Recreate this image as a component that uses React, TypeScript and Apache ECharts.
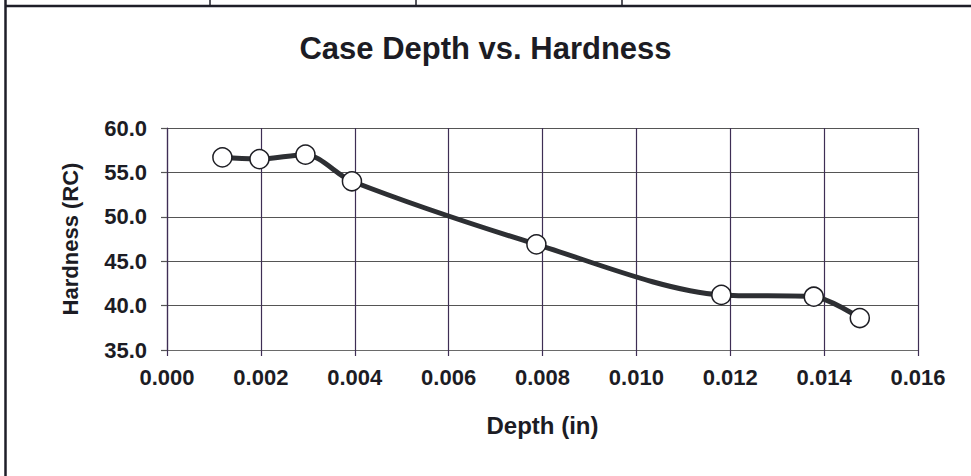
import React, { useEffect, useRef } from "react";
import * as echarts from "echarts";

const depthIn: number[] = [0.00118, 0.00197, 0.00295, 0.00394, 0.00787, 0.01181, 0.01378, 0.01476];
const hardnessRC: number[] = [56.7, 56.5, 57.0, 54.0, 46.9, 41.2, 41.0, 38.6];
const xTicks = { min: 0, max: 0.016, interval: 0.002 };
const yTicks = { min: 35, max: 60, interval: 5 };
const titleText = "Case Depth vs. Hardness";
const xName = "Depth (in)";
const yName = "Hardness (RC)";

const FONT = "'Liberation Sans', Arial, sans-serif";
const TXT = "#1c1c24";

export default function App() {
  const ref = useRef<HTMLDivElement>(null);
  useEffect(() => {
    if (!ref.current) return;
    const chart = echarts.init(ref.current, undefined, { renderer: "svg" });
    const data = depthIn.map((x, i) => [x, hardnessRC[i]]);
    chart.setOption({
      animation: false,
      backgroundColor: "#ffffff",
      title: {
        text: titleText,
        left: "center",
        top: 28,
        textStyle: { fontFamily: FONT, fontWeight: "bold", fontSize: 31, color: TXT },
      },
      grid: { left: 167, right: 53, top: 128, height: 222 },
      xAxis: {
        type: "value",
        min: xTicks.min,
        max: xTicks.max,
        interval: xTicks.interval,
        name: xName,
        nameLocation: "middle",
        nameGap: 63,
        nameTextStyle: { fontFamily: FONT, fontWeight: "bold", fontSize: 24, color: TXT },
        axisLine: { show: true, lineStyle: { color: "#6a6a6a", width: 1.2 } },
        axisTick: { show: true, inside: false, length: 6, lineStyle: { color: "#3e2e55", width: 1.2 } },
        axisLabel: {
          margin: 16,
          fontFamily: FONT,
          fontWeight: "bold",
          fontSize: 22,
          color: TXT,
          formatter: (v: number) => v.toFixed(3),
        },
        splitLine: { show: true, lineStyle: { color: "#3e2e55", width: 1.2 } },
      },
      yAxis: {
        type: "value",
        min: yTicks.min,
        max: yTicks.max,
        interval: yTicks.interval,
        name: yName,
        nameLocation: "middle",
        nameGap: 86,
        nameRotate: 90,
        nameTextStyle: { fontFamily: FONT, fontWeight: "bold", fontSize: 22, color: TXT },
        axisLine: { show: true, lineStyle: { color: "#3e2e55", width: 1.2 } },
        axisTick: { show: true, inside: false, length: 6, lineStyle: { color: "#555555", width: 1.2 } },
        axisLabel: {
          margin: 20,
          fontFamily: FONT,
          fontWeight: "bold",
          fontSize: 22,
          color: TXT,
          formatter: (v: number) => v.toFixed(1),
        },
        splitLine: { show: true, lineStyle: { color: "#555555", width: 1.2 } },
      },
      series: [
        {
          type: "line",
          data,
          smooth: 0.3,
          symbol: "circle",
          symbolSize: 19,
          lineStyle: { color: "#2d2f33", width: 5 },
          itemStyle: { color: "#ffffff", borderColor: "#1e1e24", borderWidth: 1.5 },
          z: 3,
        },
      ],
      graphic: [
        { type: "line", shape: { x1: 5.5, y1: 0, x2: 5.5, y2: 476 }, style: { stroke: "#1e1e28", lineWidth: 2.5 } },
        { type: "line", shape: { x1: 5, y1: 6, x2: 971, y2: 6 }, style: { stroke: "#1e1e28", lineWidth: 2.5 } },
        { type: "line", shape: { x1: 210, y1: 0, x2: 210, y2: 6 }, style: { stroke: "#1e1e28", lineWidth: 1.5 } },
        { type: "line", shape: { x1: 416, y1: 0, x2: 416, y2: 6 }, style: { stroke: "#1e1e28", lineWidth: 1.5 } },
        { type: "line", shape: { x1: 622, y1: 0, x2: 622, y2: 6 }, style: { stroke: "#1e1e28", lineWidth: 1.5 } },
      ],
    });
    return () => chart.dispose();
  }, []);
  return (
    <div
      ref={ref}
      style={{ position: "fixed", left: 0, top: 0, width: 971, height: 476, background: "#fff" }}
    />
  );
}
